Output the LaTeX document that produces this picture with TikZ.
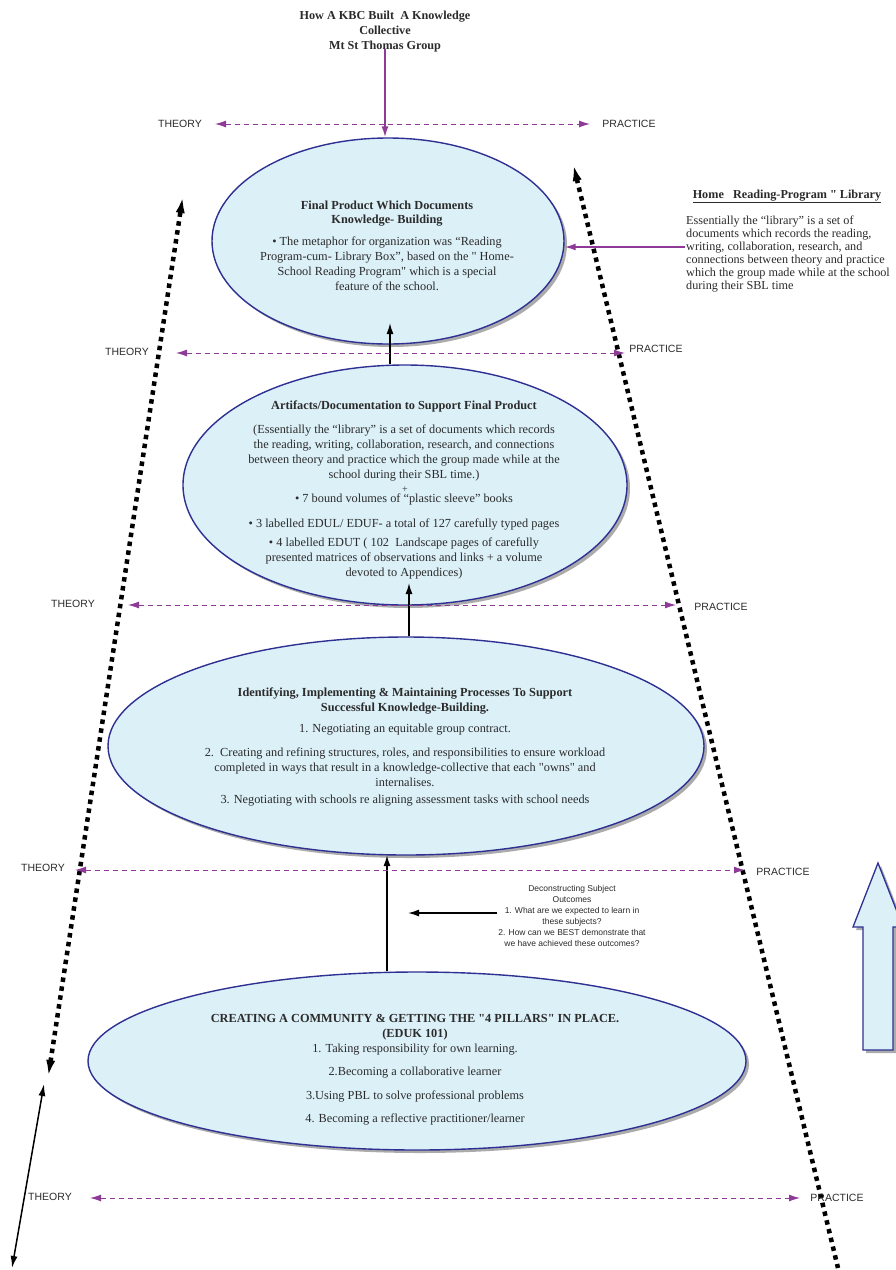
\documentclass[tikz,border=0pt]{standalone}
\usepackage{fontspec}
\setmainfont{Liberation Serif}[Ligatures=TeXOff]
\setsansfont{Liberation Sans}[Ligatures=TeXOff]
\usetikzlibrary{arrows.meta,shapes.geometric,shadows}
\definecolor{ellfill}{HTML}{DCF0F8}
\definecolor{ellline}{HTML}{2E3092}
\definecolor{purp}{HTML}{8E3A97}
\definecolor{txt}{HTML}{2B2B2B}
\begin{document}
\begin{tikzpicture}[x=1pt,y=-1pt,
  every node/.style={inner sep=0pt, text=txt},
  ell/.style={ellipse, draw=ellline, line width=1.4pt, fill=ellfill,
    drop shadow={shadow xshift=3pt, shadow yshift=-3pt, fill=black!60, opacity=.55}},
  body/.style={font=\fontsize{12.3}{14}\selectfont, anchor=base},
  small/.style={font=\sffamily\fontsize{8.5}{10}\selectfont, anchor=base},
  lib/.style={font=\fontsize{12.2}{13}\selectfont, anchor=base west},
  lab/.style={font=\sffamily\fontsize{10.5}{12}\selectfont},
  parrow/.style={draw=purp, line width=1.6pt, -{Latex[length=11pt,width=7pt]}},
  darrow/.style={draw=purp, line width=1pt, dash pattern=on 5pt off 4pt,
    {Latex[length=11pt,width=7pt]}-{Latex[length=11pt,width=7pt]}},
  barrow/.style={draw=black, line width=1.5pt, -{Latex[length=11pt,width=7pt]}},
  dotline/.style={draw=black, line width=4.5pt, dash pattern=on 4.5pt off 4.5pt,
    {Latex[length=18pt,width=9pt]}-{Latex[length=18pt,width=9pt]}},
]
\useasboundingbox (0,0) rectangle (896,1270);
\fill[white] (0,0) rectangle (896,1270);

% ---------- big dotted side lines ----------
\coordinate (L1) at (183,195);
\coordinate (L2) at (48,1078);
\coordinate (R1) at (573,163);
\coordinate (R2) at (838,1268);
\coordinate (S1) at (44,1084);
\coordinate (S2) at (12,1268);
\draw[dotline] (L2) -- (L1);
\draw[dotline, {Latex[length=18pt,width=9pt]}-] (R1) -- (R2);
\draw[line width=1.5pt, {Latex[length=12pt,width=7pt]}-{Latex[length=12pt,width=7pt]}] (S1) -- (S2);

% ---------- title ----------
\node[body, font=\bfseries\fontsize{12.2}{14}\selectfont] (ti1) at (385,19) {How A KBC Built\ \ A Knowledge};
\node[body, font=\bfseries\fontsize{12.2}{14}\selectfont] (ti2) at (385,34) {Collective};
\node[body, font=\bfseries\fontsize{12.2}{14}\selectfont] (ti3) at (385,49) {Mt St Thomas Group};

% ---------- ellipses ----------
\node[ell, minimum width=352pt, minimum height=206pt] (e1) at (388,241) {};
\node[ell, minimum width=444pt, minimum height=240pt] (e2) at (405,485) {};
\node[ell, minimum width=596pt, minimum height=218pt] (e3) at (406,746) {};
\node[ell, minimum width=658pt, minimum height=178pt] (e4) at (417,1061) {};

% big arrow on the right
\draw[draw=ellline, line width=1.3pt, fill=ellfill,
  drop shadow={shadow xshift=3pt, shadow yshift=-3pt, fill=black!60, opacity=.55}]
  (878,863) -- (903,927) -- (893,927) -- (893,1050) -- (863,1050) -- (863,927) -- (853,927) -- cycle;

% ---------- text in e1 ----------
\foreach \yy/\tx [count=\i] in {
  209/{\textbf{Final Product Which Documents}},
  223/{\textbf{Knowledge- Building}},
  245/{• The metaphor for organization was “Reading},
  260/{Program-cum- Library Box”, based on the " Home-},
  275/{School Reading Program" which is a special},
  290/{feature of the school.}}
  \node[body] (ta\i) at (387,\yy) {\tx};

% ---------- text in e2 ----------
\foreach \yy/\tx [count=\i] in {
  409/{\textbf{Artifacts/Documentation to Support Final Product}},
  433/{(Essentially the “library” is a set of documents which records},
  448/{the reading, writing, collaboration, research, and connections},
  463/{between theory and practice which the group made while at the},
  478/{school during their SBL time.)},
  502/{• 7 bound volumes of “plastic sleeve” books},
  527/{• 3 labelled EDUL/ EDUF- a total of 127 carefully typed pages},
  546/{• 4 labelled EDUT ( 102\ \ Landscape pages of carefully},
  561/{presented matrices of observations and links + a volume},
  576/{devoted to Appendices)}}
  \node[body] (tb\i) at (404,\yy) {\tx};
\node[body, font=\fontsize{10}{10}\selectfont] (tbplus) at (405,492) {+};

% ---------- text in e3 ----------
\foreach \yy/\tx [count=\i] in {
  696/{\textbf{Identifying, Implementing \& Maintaining Processes To Support}},
  711/{\textbf{Successful Knowledge-Building.}},
  732/{1. Negotiating an equitable group contract.},
  756/{2.\ \ Creating and refining structures, roles, and responsibilities to ensure workload},
  771/{completed in ways that result in a knowledge-collective that each "owns" and},
  786/{internalises.},
  803/{3. Negotiating with schools re aligning assessment tasks with school needs}}
  \node[body] (tc\i) at (405,\yy) {\tx};

% ---------- text in e4 ----------
\foreach \yy/\tx [count=\i] in {
  1022/{\textbf{CREATING A COMMUNITY \& GETTING THE "4 PILLARS" IN PLACE.}},
  1037/{\textbf{(EDUK 101)}},
  1052/{1. Taking responsibility for own learning.},
  1075/{2.Becoming a collaborative learner},
  1099/{3.Using PBL to solve professional problems},
  1122/{4. Becoming a reflective practitioner/learner}}
  \node[body] (td\i) at (415,\yy) {\tx};

% ---------- deconstructing note ----------
\foreach \yy/\tx [count=\i] in {
  891/{Deconstructing Subject},
  902/{Outcomes},
  913/{1. What are we expected to learn in},
  924/{these subjects?},
  935/{2. How can we BEST demonstrate that},
  946/{we have achieved these outcomes?}}
  \node[small] (d\i) at (572,\yy) {\tx};
\coordinate (dtip) at (408,913);
\coordinate (dstart) at (497,913);
\draw[barrow] (dstart) -- (dtip);

% ---------- library note ----------
\node[anchor=base, font=\bfseries\fontsize{12.2}{13}\selectfont] (lh) at (787,198)
  {Home\ \ \ Reading-Program " Library};
\draw[line width=0.8pt, txt] ([yshift=-4pt]lh.base west) -- ([yshift=-4pt]lh.base east);
\foreach \yy/\tx [count=\i] in {
  224/{Essentially the “library” is a set of},
  237/{documents which records the reading,},
  250/{writing, collaboration, research, and},
  263/{connections between theory and practice},
  276/{which the group made while at the school},
  289/{during their SBL time}}
  \node[lib] (lp\i) at (686,\yy) {\tx};
\coordinate (libin) at (685,247);
\draw[parrow] (libin) -- (e1.east |- libin);

% ---------- connectors between levels ----------
\draw[parrow] (ti3.south) ++(0,-3) coordinate (tibot) -- (tibot |- e1.north);
\coordinate (c1) at (390,323);
\draw[barrow] (c1 |- e2.north) -- (c1);
\coordinate (c2) at (409,583);
\draw[barrow] (c2 |- e3.north) -- (c2);
\coordinate (c3) at (387,855);
\draw[barrow] (c3 |- e4.north) -- (c3);

% ---------- THEORY / PRACTICE rows ----------
\node[lab] (th1) at (180,124) {THEORY};
\node[lab] (pr1) at (629,124) {PRACTICE};
\coordinate (l1) at (215,124); \coordinate (r1) at (590,124);
\draw[darrow] (l1) -- (r1);

\node[lab] (th2) at (127,352) {THEORY};
\node[lab] (pr2) at (656,349) {PRACTICE};
\coordinate (l2) at (176,353); \coordinate (r2) at (625,353);
\draw[darrow] (l2) -- (r2);

\node[lab] (th3) at (73,604) {THEORY};
\node[lab] (pr3) at (721,607) {PRACTICE};
\coordinate (l3) at (128,605); \coordinate (r3) at (676,605);
\draw[darrow] (l3) -- (r3);

\node[lab] (th4) at (43,868) {THEORY};
\node[lab] (pr4) at (783,872) {PRACTICE};
\coordinate (l4) at (75,870); \coordinate (r4) at (745,870);
\draw[darrow] (l4) -- (r4);

\node[lab] (th5) at (50,1197) {THEORY};
\node[lab] (pr5) at (837,1198) {PRACTICE};
\coordinate (l5) at (90,1198); \coordinate (r5) at (800,1198);
\draw[darrow] (l5) -- (r5);
\end{tikzpicture}
\end{document}
